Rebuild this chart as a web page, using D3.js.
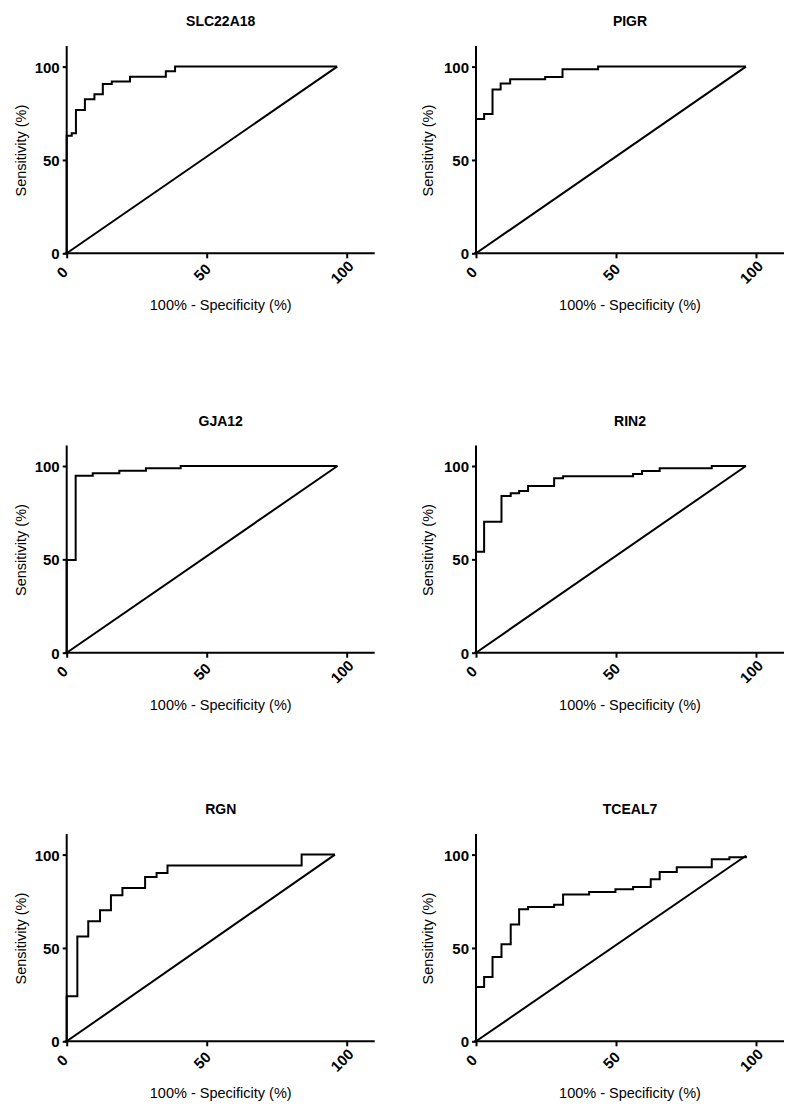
<!DOCTYPE html>
<html>
<head>
<meta charset="utf-8">
<script src="https://cdn.jsdelivr.net/npm/d3@7"></script>
<style>
	body { margin: 0; background: #fff; }
	svg { display: block; }
	.ptitle { font: bold 14px "Liberation Sans", Arial, sans-serif; }
	.alabel { font: 14.5px "Liberation Sans", Arial, sans-serif; }
	.tick text { font: bold 15px "Liberation Sans", Arial, sans-serif; fill: #000; }
</style>
</head>
<body>
<script>
var W = 800, H = 1111;

var genes = ['SLC22A18', 'PIGR', 'GJA12', 'RIN2', 'RGN', 'TCEAL7'];
var ticks = [0, 50, 100];

// ROC steps: 100% - specificity (%) and sensitivity (%)
var slcFpr  = [0, 0, 1.8, 3.3, 6.5, 9.9, 12.9, 16.1, 22.6, 35.4, 38.7, 96.6];
var slcSens = [0, 62.9, 64.3, 76.8, 82.5, 85.2, 90.7, 92.0, 94.6, 97.5, 100, 100];

var pigrFpr  = [0, 0, 2.9, 5.9, 8.8, 12.2, 24.7, 30.9, 43.6, 96.4];
var pigrSens = [0, 72.0, 74.6, 87.8, 90.9, 93.2, 94.4, 98.6, 100, 100];

var gjaFpr  = [0, 0, 3.2, 9.3, 18.8, 28.3, 40.7, 96.7];
var gjaSens = [0, 49.6, 94.8, 96.1, 97.5, 98.8, 100, 100];

var rinFpr  = [0, 0, 2.9, 9.1, 12.4, 15.4, 18.6, 27.9, 31.1, 56.1, 59.3, 65.6, 84.2, 96.4];
var rinSens = [0, 54.1, 70.2, 83.9, 85.4, 86.6, 89.3, 93.4, 94.5, 95.7, 97.3, 98.8, 100, 100];

var rgnFpr  = [0, 0, 3.8, 7.7, 11.9, 15.8, 19.9, 28.0, 32.1, 36.0, 83.9, 95.8];
var rgnSens = [0, 24.1, 56.2, 64.3, 70.2, 78.2, 82.1, 88.0, 90.2, 94.1, 100, 100];

var tceFpr  = [0, 0, 2.9, 5.9, 9.1, 12.4, 15.4, 18.6, 27.9, 31.1, 40.4, 49.8, 56.1, 62.4, 65.6, 71.7, 84.2, 90.5, 96.4];
var tceSens = [0, 29.1, 34.5, 45.2, 52.0, 62.5, 70.7, 72.0, 73.2, 78.6, 80.0, 81.4, 82.7, 86.8, 90.7, 93.2, 97.5, 98.6, 99.4];

var fprs = [slcFpr, pigrFpr, gjaFpr, rinFpr, rgnFpr, tceFpr];
var senss = [slcSens, pigrSens, gjaSens, rinSens, rgnSens, tceSens];

// panel origins (axis 0,0)
var colX = [66.7, 476];
var rowY = [253.3, 652.7, 1041.3];
var pw = 280, ph = 186.7; // pixels per 100 %

var svg = d3.select('body').append('svg').attr('width', W).attr('height', H);

var draw_panel = function (i) {
	var ox = colX[i % 2], oy = rowY[Math.floor(i / 2)];
	var g = svg.append('g').attr('transform', 'translate(' + ox + ',' + oy + ')');

	var x = d3.scaleLinear().domain([0, 110]).range([0, pw * 1.1]);
	var y = d3.scaleLinear().domain([0, 111]).range([0, -ph * 1.11]);

	var xa = g.append('g').call(d3.axisBottom(x).tickValues(ticks).tickSize(5).tickSizeOuter(0));
	// rotated labels, centred just below-left of the tick
	xa.selectAll('.tick text')
		.attr('x', 0).attr('y', 0).attr('dy', '0.35em')
		.attr('text-anchor', 'middle')
		.attr('transform', 'translate(-5,19) rotate(-45)');
	var ya = g.append('g').call(d3.axisLeft(y).tickValues(ticks).tickSize(4).tickSizeOuter(0).tickPadding(3));
	ya.selectAll('.tick text').attr('dy', '0.36em');

	g.selectAll('.domain, .tick line').attr('stroke', '#000').attr('stroke-width', 2);
	xa.select('.domain').attr('d', 'M-2,0H' + x(110));
	ya.select('.domain').attr('d', 'M0,1V' + y(111));

	var fpr = fprs[i], sens = senss[i];
	var pts = fpr.map(function (d, k) { return [d, sens[k]]; });
	var last = pts[pts.length - 1];

	// reference diagonal
	g.append('path')
		.attr('d', d3.line().x(function (d) { return x(d[0]); }).y(function (d) { return y(d[1]); })([[0, 0], last]))
		.attr('fill', 'none').attr('stroke', '#000').attr('stroke-width', 2);

	g.append('path')
		.attr('d', d3.line().curve(d3.curveStepAfter)
			.x(function (d) { return x(d[0]); }).y(function (d) { return y(d[1]); })(pts))
		.attr('fill', 'none').attr('stroke', '#000').attr('stroke-width', 2)
		.attr('stroke-linejoin', 'miter');

	var cx = x(55);
	g.append('text').attr('class', 'ptitle')
		.attr('x', cx).attr('y', -232).attr('dy', '0.35em')
		.attr('text-anchor', 'middle').text(genes[i]);
	g.append('text').attr('class', 'alabel')
		.attr('x', cx).attr('y', 52).attr('dy', '0.35em')
		.attr('text-anchor', 'middle').text('100% - Specificity (%)');
	g.append('text').attr('class', 'alabel')
		.attr('transform', 'translate(' + (i % 2 ? -48 : -46) + ',' + y(55) + ') rotate(-90)')
		.attr('dy', '0.35em')
		.attr('text-anchor', 'middle').text('Sensitivity (%)');
};

for (var i = 0; i < genes.length; i++) draw_panel(i);
</script>
</body>
</html>
